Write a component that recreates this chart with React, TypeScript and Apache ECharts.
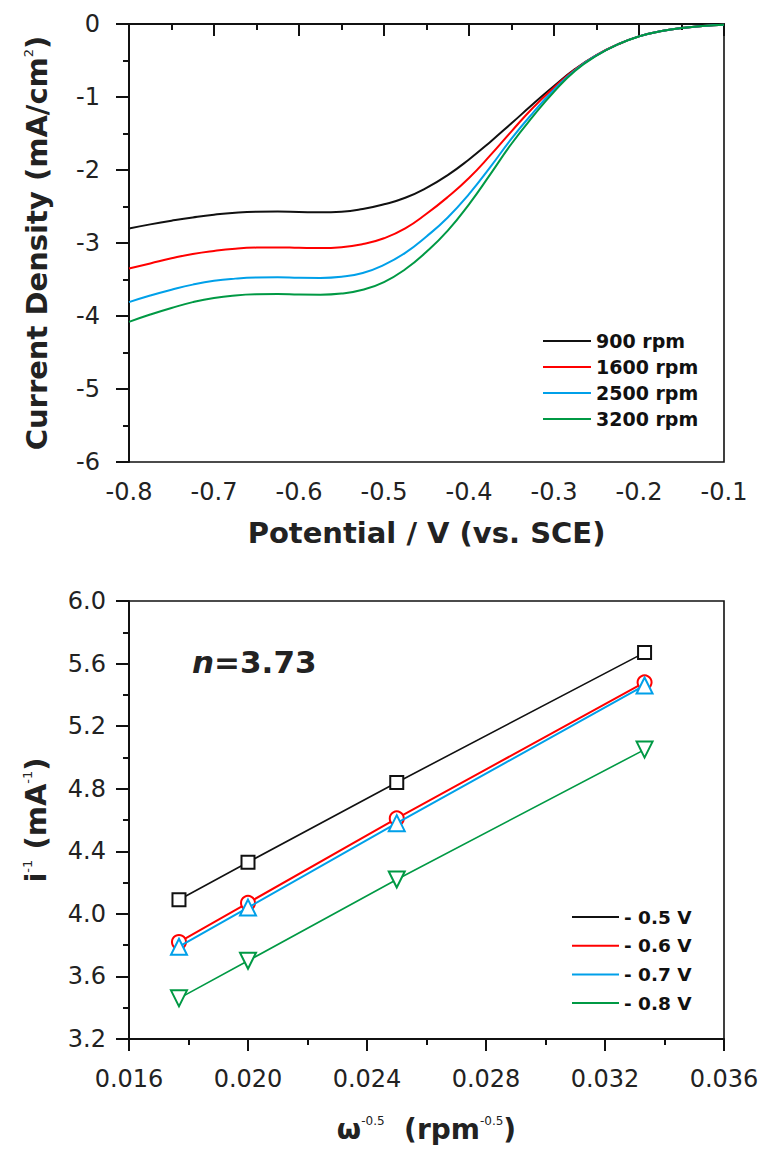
import React, { useEffect, useRef } from "react";
import * as echarts from "echarts";

// ---------- Top chart: LSV curves ----------
const potentials = [
  -0.8, -0.775, -0.75, -0.725, -0.7, -0.675, -0.65, -0.625, -0.6, -0.575, -0.55, -0.525, -0.5, -0.475,
  -0.45, -0.425, -0.4, -0.375, -0.35, -0.325, -0.3, -0.275, -0.25, -0.225, -0.2, -0.175, -0.15, -0.125, -0.1,
];
const rpmNames = ["900 rpm", "1600 rpm", "2500 rpm", "3200 rpm"];
const j900 = [
  -2.8, -2.745, -2.695, -2.65, -2.612, -2.585, -2.572, -2.57, -2.575, -2.58, -2.572, -2.535, -2.47, -2.38,
  -2.245, -2.07, -1.855, -1.615, -1.36, -1.1, -0.85, -0.615, -0.425, -0.28, -0.17, -0.1, -0.055, -0.028, -0.01,
];
const j1600 = [
  -3.35, -3.28, -3.21, -3.15, -3.108, -3.078, -3.063, -3.06, -3.066, -3.07, -3.058, -3.015, -2.935, -2.8,
  -2.6, -2.37, -2.11, -1.8, -1.47, -1.15, -0.87, -0.62, -0.425, -0.28, -0.17, -0.1, -0.055, -0.028, -0.01,
];
const j2500 = [
  -3.81, -3.72, -3.64, -3.57, -3.518, -3.488, -3.473, -3.47, -3.476, -3.478, -3.462, -3.41, -3.3, -3.135,
  -2.91, -2.65, -2.33, -1.96, -1.57, -1.22, -0.9, -0.63, -0.43, -0.28, -0.17, -0.1, -0.055, -0.028, -0.01,
];
const j3200 = [
  -4.08, -3.98, -3.89, -3.81, -3.752, -3.718, -3.703, -3.7, -3.706, -3.708, -3.692, -3.64, -3.535, -3.36,
  -3.12, -2.83, -2.47, -2.06, -1.64, -1.27, -0.93, -0.64, -0.435, -0.28, -0.17, -0.1, -0.055, -0.028, -0.01,
];

// ---------- Bottom chart: Koutecky-Levich ----------
const omegaInv = [0.01768, 0.02, 0.025, 0.03333];
const kNames = ["- 0.5 V", "- 0.6 V", "- 0.7 V", "- 0.8 V"];
const inv05 = [4.09, 4.33, 4.84, 5.67];
const inv06 = [3.82, 4.07, 4.61, 5.48];
const inv07 = [3.79, 4.04, 4.58, 5.46];
const inv08 = [3.46, 3.7, 4.22, 5.05];
const nLabel = "3.73";

const colors = ["#111111", "#ff0000", "#00a0e9", "#009944"];
const FONT = "DejaVu Sans";

function axisCommon(tickLen: number) {
  return {
    axisLine: { show: true, lineStyle: { color: "#111", width: 2 } },
    axisTick: { show: true, inside: false, length: tickLen, lineStyle: { color: "#111", width: 2 } },
    minorTick: { show: true, splitNumber: 2, length: 6, lineStyle: { color: "#111", width: 2 } },
    splitLine: { show: false },
    minorSplitLine: { show: false },
  };
}

export default function App() {
  const ref = useRef<HTMLDivElement>(null);
  useEffect(() => {
    document.body.style.margin = "0";
    const chart = echarts.init(ref.current!, null, { renderer: "svg" });
    const topSeries = [j900, j1600, j2500, j3200].map((arr, i) => ({
      name: rpmNames[i],
      type: "line",
      xAxisIndex: 0,
      yAxisIndex: 0,
      showSymbol: false,
      smooth: 0.5,
      data: potentials.map((p, k) => [p, arr[k]]),
      lineStyle: { color: colors[i], width: 2 },
      itemStyle: { color: colors[i] },
      z: 3 + i,
    }));
    const symbols = ["rect", "circle", "triangle", "triangle"];
    const symSizes = [13, 14, 16, 16];
    const symRot = [0, 0, 0, 180];
    const bottomSeries = [inv05, inv06, inv07, inv08].map((arr, i) => ({
      name: kNames[i],
      type: "line",
      xAxisIndex: 1,
      yAxisIndex: 1,
      symbol: symbols[i],
      symbolSize: symSizes[i],
      symbolRotate: symRot[i],
      showSymbol: true,
      data: omegaInv.map((x, k) => [x, arr[k]]),
      lineStyle: { color: colors[i], width: i === 1 || i === 2 ? 2 : 1.6 },
      itemStyle: { color: "#fff", borderColor: colors[i], borderWidth: 2 },
      z: 3 + i,
    }));

    const labelStyle = (margin: number) => ({
      fontFamily: FONT,
      fontSize: 24,
      color: "#222",
      margin,
    });

    chart.setOption({
      animation: false,
      backgroundColor: "#fff",
      grid: [
        { left: 129, top: 24, width: 595, height: 438, show: true, borderColor: "#111", borderWidth: 1.6, backgroundColor: "transparent" },
        { left: 129, top: 601, width: 595, height: 438, show: true, borderColor: "#111", borderWidth: 1.6, backgroundColor: "transparent" },
      ],
      xAxis: [
        {
          type: "value",
          gridIndex: 0,
          min: -0.8,
          max: -0.1,
          interval: 0.1,
          ...axisCommon(12),
          axisLabel: { ...labelStyle(18), formatter: (v: number) => v.toFixed(1) },
          name: "Potential / V (vs. SCE)",
          nameLocation: "middle",
          nameGap: 56,
          nameTextStyle: { fontFamily: FONT, fontWeight: "bold", fontSize: 29, color: "#222" },
        },
        {
          type: "value",
          gridIndex: 1,
          min: 0.016,
          max: 0.036,
          interval: 0.004,
          ...axisCommon(12),
          axisLabel: { ...labelStyle(28), formatter: (v: number) => v.toFixed(3) },
          name: "{b|ω}{s|-0.5}{b|  (rpm}{s|-0.5}{b|)}",
          nameLocation: "middle",
          nameGap: 76,
          nameTextStyle: {
            color: "#222",
            rich: {
              b: { fontFamily: FONT, fontWeight: "bold", fontSize: 28, color: "#222" },
              s: { fontFamily: FONT, fontSize: 12, color: "#222", verticalAlign: "top" },
            },
          },
        },
      ],
      yAxis: [
        {
          type: "value",
          gridIndex: 0,
          min: -6,
          max: 0,
          interval: 1,
          ...axisCommon(13),
          axisLabel: { ...labelStyle(29), formatter: (v: number) => String(Math.round(v)) },
          name: "{b|Current Density (mA/cm}{s|2}{b|)}",
          nameLocation: "middle",
          nameRotate: 90,
          nameGap: 78,
          nameTextStyle: {
            color: "#222",
            rich: {
              b: { fontFamily: FONT, fontWeight: "bold", fontSize: 29, color: "#222" },
              s: { fontFamily: FONT, fontSize: 13, color: "#222", verticalAlign: "top" },
            },
          },
        },
        {
          type: "value",
          gridIndex: 1,
          min: 3.2,
          max: 6.0,
          interval: 0.4,
          ...axisCommon(13),
          axisLabel: { ...labelStyle(23), formatter: (v: number) => v.toFixed(1) },
          name: "{b|i}{s|-1}{b| (mA}{s|-1}{b|)}",
          nameLocation: "middle",
          nameRotate: 90,
          nameGap: 79,
          nameTextStyle: {
            color: "#222",
            rich: {
              b: { fontFamily: FONT, fontWeight: "bold", fontSize: 29, color: "#222" },
              s: { fontFamily: FONT, fontSize: 13, color: "#222", verticalAlign: "top" },
            },
          },
        },
      ],
      legend: [
        {
          orient: "vertical",
          left: 543,
          top: 331,
          padding: 0,
          itemWidth: 48,
          itemHeight: 2,
          itemGap: 6,
          data: rpmNames.map((n, i) => ({ name: n, icon: "rect", itemStyle: { color: colors[i], borderWidth: 0 } })),
          textStyle: { fontFamily: FONT, fontWeight: "bold", fontSize: 19, lineHeight: 20, color: "#111" },
        },
        {
          orient: "vertical",
          left: 572,
          top: 907,
          padding: 0,
          itemWidth: 47,
          itemHeight: 2,
          itemGap: 8.7,
          data: kNames.map((n, i) => ({ name: n, icon: "rect", itemStyle: { color: colors[i], borderWidth: 0 } })),
          textStyle: { fontFamily: FONT, fontWeight: "bold", fontSize: 18.5, lineHeight: 20, color: "#111" },
        },
      ],
      graphic: [
        {
          type: "text",
          left: 192,
          top: 646,
          style: {
            text: "{i|n}{r|=" + nLabel + "}",
            rich: {
              i: { fontFamily: FONT, fontWeight: "bold", fontStyle: "italic", fontSize: 31, fill: "#222" },
              r: { fontFamily: FONT, fontWeight: "bold", fontSize: 31, fill: "#222" },
            },
          },
        },
      ],
      series: [...topSeries, ...bottomSeries],
    });
    return () => chart.dispose();
  }, []);
  return <div ref={ref} style={{ width: 764, height: 1152, overflow: "hidden" }} />;
}
